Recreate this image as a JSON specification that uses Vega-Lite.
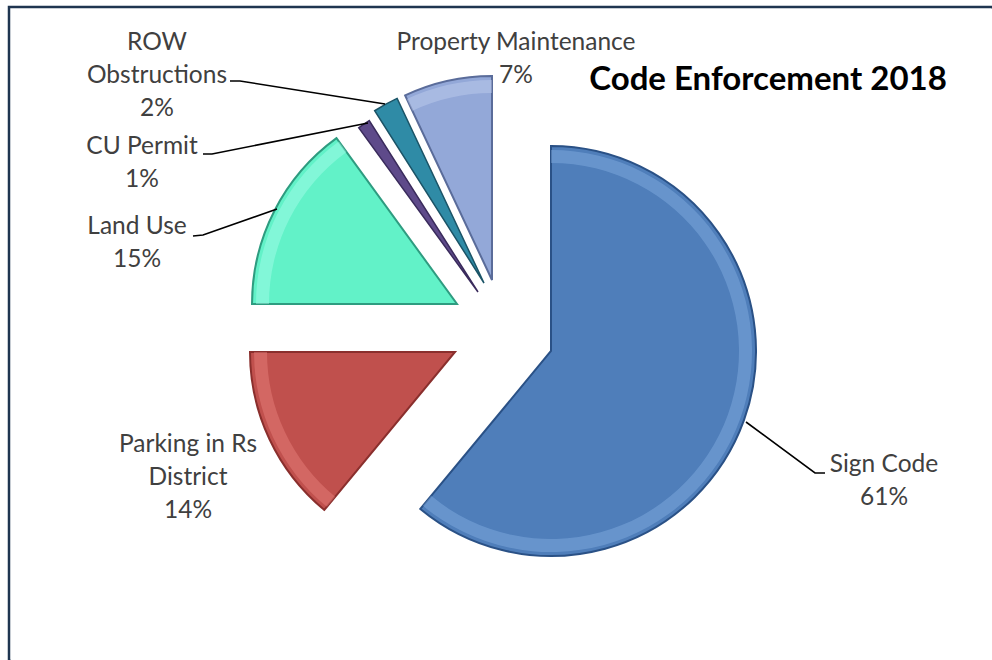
{
  "$schema": "https://vega.github.io/schema/vega-lite/v6.json",
  "width": 992,
  "height": 660,
  "autosize": {"type": "fit", "contains": "padding"},
  "padding": {"left": 7, "top": 5, "right": -3, "bottom": -3},
  "background": "white",
  "config": {
    "view": {"stroke": null},
    "text": {"font": "Lato"}
  },
  "data": {
    "values": [
      {"cat": "Sign Code", "pct": 61},
      {"cat": "Parking in Rs\nDistrict", "pct": 14},
      {"cat": "Land Use", "pct": 15},
      {"cat": "CU Permit", "pct": 1},
      {"cat": "ROW\nObstructions", "pct": 2},
      {"cat": "Property Maintenance", "pct": 7}
    ]
  },
  "transform": [
    {"stack": "pct", "groupby": [], "as": ["t0", "t1"]},
    {"calculate": "datum.cat + '\\n' + datum.pct + '%'", "as": "label"}
  ],
  "layer": [
    {
      "data": {"values": [{"title": "Code Enforcement 2018"}]},
      "layer": [
        {"mark": {"type": "rect", "fill": "transparent", "stroke": "#1F3550", "strokeWidth": 2.5, "strokeDash": {"expr": "[width + 2, width + height - 4, height + 2]"}}, "encoding": {}},
        {"mark": {"type": "text", "dx": 267, "dy": -254, "fontSize": 33, "fontWeight": "bold", "align": "center", "baseline": "middle", "fill": "#000000"},
         "encoding": {"text": {"field": "title"}}}
      ]
    },
    {
      "transform": [{"filter": "datum.cat === 'Sign Code'"}],
      "layer": [
        {"mark": {"type": "arc", "radius": 205, "fill": "#4F7EBA", "stroke": "#2A5186", "strokeWidth": 2, "xOffset": 50, "yOffset": 17},
         "encoding": {"theta": {"field": "t0", "type": "quantitative", "scale": {"domain": [0, 100]}}, "theta2": {"field": "t1"}}},
        {"mark": {"type": "arc", "radius": 201, "radius2": 188, "fill": "#8DB6E8", "opacity": 0.4, "xOffset": 50, "yOffset": 17},
         "encoding": {"theta": {"field": "t0", "type": "quantitative", "scale": {"domain": [0, 100]}}, "theta2": {"field": "t1"}}},
        {"mark": {"type": "text", "dx": 383, "dy": 131, "fontSize": 24.5, "lineHeight": 33, "lineBreak": "\n", "align": "center", "baseline": "middle", "fill": "#404040"},
         "encoding": {"text": {"field": "label"}}},
        {"mark": {"type": "point", "shape": "M0.49,0.176L0.628,0.278L0.648,0.278", "size": 1000000, "filled": false, "stroke": "#000000", "strokeWidth": 1.6, "opacity": 1},
         "encoding": {}}
      ]
    },
    {
      "transform": [{"filter": "datum.pct === 14"}],
      "layer": [
        {"mark": {"type": "arc", "radius": 205, "fill": "#C0504D", "stroke": "#8A2F2D", "strokeWidth": 2, "xOffset": -46, "yOffset": 18},
         "encoding": {"theta": {"field": "t0", "type": "quantitative", "scale": {"domain": [0, 100]}}, "theta2": {"field": "t1"}}},
        {"mark": {"type": "arc", "radius": 201, "radius2": 188, "fill": "#F08A84", "opacity": 0.4, "xOffset": -46, "yOffset": 18},
         "encoding": {"theta": {"field": "t0", "type": "quantitative", "scale": {"domain": [0, 100]}}, "theta2": {"field": "t1"}}},
        {"mark": {"type": "text", "dx": -313, "dy": 111, "fontSize": 24.5, "lineHeight": 33, "lineBreak": "\n", "align": "center", "baseline": "middle", "fill": "#404040"},
         "encoding": {"text": {"field": "label"}}}
      ]
    },
    {
      "transform": [{"filter": "datum.cat === 'Land Use'"}],
      "layer": [
        {"mark": {"type": "arc", "radius": 205, "fill": "#62F2C8", "stroke": "#2E9C80", "strokeWidth": 2, "xOffset": -44, "yOffset": -30},
         "encoding": {"theta": {"field": "t0", "type": "quantitative", "scale": {"domain": [0, 100]}}, "theta2": {"field": "t1"}}},
        {"mark": {"type": "arc", "radius": 201, "radius2": 188, "fill": "#B4FFF0", "opacity": 0.4, "xOffset": -44, "yOffset": -30},
         "encoding": {"theta": {"field": "t0", "type": "quantitative", "scale": {"domain": [0, 100]}}, "theta2": {"field": "t1"}}},
        {"mark": {"type": "text", "dx": -364, "dy": -107, "fontSize": 24.5, "lineHeight": 33, "lineBreak": "\n", "align": "center", "baseline": "middle", "fill": "#404040"},
         "encoding": {"text": {"field": "label"}}},
        {"mark": {"type": "point", "shape": "M-0.616,-0.196L-0.596,-0.198L-0.448,-0.25", "size": 1000000, "filled": false, "stroke": "#000000", "strokeWidth": 1.6, "opacity": 1},
         "encoding": {}}
      ]
    },
    {
      "transform": [{"filter": "datum.cat === 'CU Permit'"}],
      "layer": [
        {"mark": {"type": "arc", "radius": 203, "fill": "#5E4A8A", "stroke": "#3A2B5C", "strokeWidth": 1.5, "xOffset": -23, "yOffset": -42},
         "encoding": {"theta": {"field": "t0", "type": "quantitative", "scale": {"domain": [0, 100]}}, "theta2": {"field": "t1"}}},
        {"mark": {"type": "text", "dx": -359, "dy": -187, "fontSize": 24.5, "lineHeight": 33, "lineBreak": "\n", "align": "center", "baseline": "middle", "fill": "#404040"},
         "encoding": {"text": {"field": "label"}}},
        {"mark": {"type": "point", "shape": "M-0.596,-0.36L-0.578,-0.36L-0.266,-0.422", "size": 1000000, "filled": false, "stroke": "#000000", "strokeWidth": 1.6, "opacity": 1},
         "encoding": {}}
      ]
    },
    {
      "transform": [{"filter": "datum.pct === 2"}],
      "layer": [
        {"mark": {"type": "arc", "radius": 204, "fill": "#2F8BA6", "stroke": "#1B5467", "strokeWidth": 1.5, "xOffset": -17, "yOffset": -51},
         "encoding": {"theta": {"field": "t0", "type": "quantitative", "scale": {"domain": [0, 100]}}, "theta2": {"field": "t1"}}},
        {"mark": {"type": "text", "dx": -344, "dy": -291, "fontSize": 24.5, "lineHeight": 33, "lineBreak": "\n", "align": "center", "baseline": "middle", "fill": "#404040"},
         "encoding": {"text": {"field": "label"}}},
        {"mark": {"type": "point", "shape": "M-0.542,-0.506L-0.522,-0.506L-0.232,-0.46", "size": 1000000, "filled": false, "stroke": "#000000", "strokeWidth": 1.6, "opacity": 1},
         "encoding": {}}
      ]
    },
    {
      "transform": [{"filter": "datum.cat === 'Property Maintenance'"}],
      "layer": [
        {"mark": {"type": "arc", "radius": 204, "fill": "#93A8D8", "stroke": "#5A6C9A", "strokeWidth": 2, "xOffset": -9, "yOffset": -54},
         "encoding": {"theta": {"field": "t0", "type": "quantitative", "scale": {"domain": [0, 100]}}, "theta2": {"field": "t1"}}},
        {"mark": {"type": "arc", "radius": 200, "radius2": 187, "fill": "#C8D4F2", "opacity": 0.4, "xOffset": -9, "yOffset": -54},
         "encoding": {"theta": {"field": "t0", "type": "quantitative", "scale": {"domain": [0, 100]}}, "theta2": {"field": "t1"}}},
        {"mark": {"type": "text", "dx": 15, "dy": -291, "fontSize": 24.5, "lineHeight": 33, "lineBreak": "\n", "align": "center", "baseline": "middle", "fill": "#404040"},
         "encoding": {"text": {"field": "label"}}}
      ]
    }
  ]
}
